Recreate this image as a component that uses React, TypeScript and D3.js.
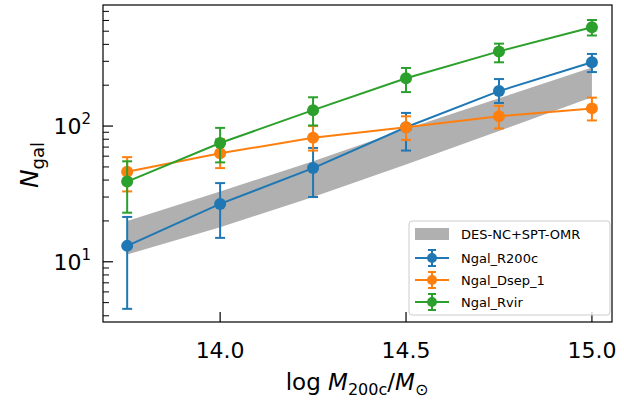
import * as d3 from 'd3';

const xs = [13.75, 14.0, 14.25, 14.5, 14.75, 15.0];
const bandLow = [11.3, 18, 30, 52, 92, 163];
const bandHigh = [20, 33, 55, 95, 160, 270];

const blue = [13.1, 26.7, 49, 98, 181, 295];
const blueLo = [4.5, 15, 30, 66, 148, 250];
const blueHi = [21.4, 38, 69, 125, 222, 340];

const orange = [46, 63, 82, 98, 118, 135];
const orangeLo = [33, 49, 66, 79, 96, 110];
const orangeHi = [59, 80, 100, 118, 141, 162];

const green = [39, 75, 131, 225, 355, 535];
const greenLo = [23, 54, 101, 178, 295, 465];
const greenHi = [55, 97, 163, 268, 405, 605];

const series = [
  { name: 'Ngal_R200c', color: '#1f77b4', v: blue, lo: blueLo, hi: blueHi },
  { name: 'Ngal_Dsep_1', color: '#ff7f0e', v: orange, lo: orangeLo, hi: orangeHi },
  { name: 'Ngal_Rvir', color: '#2ca02c', v: green, lo: greenLo, hi: greenHi },
];

const xTicks = [14.0, 14.5, 15.0];

export default function App() {
  const W = 624, H = 403;
  const L = 103, R = 612, T = 5, B = 322;
  const x = d3.scaleLinear().domain([13.685, 15.054]).range([L, R]);
  const y = d3.scaleLog().domain([3.6, 780]).range([B, T]);
  const line = d3.line<number>().x((_, i) => x(xs[i])).y((d) => y(d));
  const area = d3
    .area<number>()
    .x((_, i) => x(xs[i]))
    .y0((_, i) => y(bandLow[i]))
    .y1((d) => y(d));
  const minor: number[] = [];
  for (const dec of [1, 10, 100]) for (let k = 2; k <= 9; k++) {
    const v = k * dec;
    if (v > 3.6 && v < 780) minor.push(v);
  }
  const font = 'DejaVu Sans';
  return (
    <svg width={W} height={H} style={{ position: 'absolute', left: 0, top: 0 }} fontFamily={font}>
      <defs>
        <clipPath id="c"><rect x={L} y={T} width={R - L} height={B - T} /></clipPath>
      </defs>
      <rect width={W} height={H} fill="#fff" />
      <g clipPath="url(#c)">
        <path d={area(bandHigh) ?? ''} fill="#b0b0b0" />
        {series.map((s) => (
          <g key={s.name}>
            <path d={line(s.v) ?? ''} fill="none" stroke={s.color} strokeWidth={2} />
            {s.v.map((v, i) => {
              const cx = x(xs[i]);
              return (
                <g key={i} stroke={s.color} strokeWidth={2}>
                  <line x1={cx} x2={cx} y1={y(s.lo[i])} y2={y(s.hi[i])} />
                  <line x1={cx - 5} x2={cx + 5} y1={y(s.lo[i])} y2={y(s.lo[i])} />
                  <line x1={cx - 5} x2={cx + 5} y1={y(s.hi[i])} y2={y(s.hi[i])} />
                  <circle cx={cx} cy={y(v)} r={6} fill={s.color} stroke="none" />
                </g>
              );
            })}
          </g>
        ))}
      </g>
      <rect x={L} y={T} width={R - L} height={B - T} fill="none" stroke="#000" strokeWidth={1.2} />
      {xTicks.map((t) => (
        <g key={t}>
          <line x1={x(t)} x2={x(t)} y1={B} y2={B - 10} stroke="#000" strokeWidth={1.2} />
          <text x={x(t)} y={B + 36} textAnchor="middle" fontSize={22}>{t.toFixed(1)}</text>
        </g>
      ))}
      {[10, 100].map((t) => (
        <g key={t}>
          <line x1={L} x2={L + 10} y1={y(t)} y2={y(t)} stroke="#000" strokeWidth={1.2} />
          <text x={L - 12} y={y(t) + 8} textAnchor="end" fontSize={22}>
            10<tspan dy={-10} fontSize={15}>{t === 10 ? '1' : '2'}</tspan>
          </text>
        </g>
      ))}
      {minor.map((t) => (
        <line key={t} x1={L} x2={L + 6} y1={y(t)} y2={y(t)} stroke="#000" strokeWidth={1} />
      ))}
      <text x={357} y={390} textAnchor="middle" fontSize={23}>
        log <tspan fontStyle="italic">M</tspan><tspan dy={5} fontSize={16}>200c</tspan>
        <tspan dy={-5}>/</tspan><tspan fontStyle="italic">M</tspan><tspan dy={5} fontSize={16}>⊙</tspan>
      </text>
      <text transform="translate(38,165) rotate(-90)" textAnchor="middle" fontSize={25}>
        <tspan fontStyle="italic">N</tspan><tspan dy={6} fontSize={18}>gal</tspan>
      </text>
      <g transform="translate(409,221)">
        <rect width={201} height={94} rx={3} fill="#fff" fillOpacity={0.8} stroke="#ccc" />
        <rect x={6} y={7} width={34} height={12} fill="#b0b0b0" />
        <text x={52} y={18} fontSize={13}>DES-NC+SPT-OMR</text>
        {series.map((s, i) => {
          const cy = 37 + i * 22;
          return (
            <g key={s.name} stroke={s.color} strokeWidth={2}>
              <line x1={6} x2={40} y1={cy} y2={cy} />
              <line x1={23} x2={23} y1={cy - 8} y2={cy + 8} />
              <line x1={19} x2={27} y1={cy - 8} y2={cy - 8} />
              <line x1={19} x2={27} y1={cy + 8} y2={cy + 8} />
              <circle cx={23} cy={cy} r={5} fill={s.color} stroke="none" />
              <text x={52} y={cy + 5} fontSize={13} fill="#000" stroke="none">{s.name}</text>
            </g>
          );
        })}
      </g>
    </svg>
  );
}
